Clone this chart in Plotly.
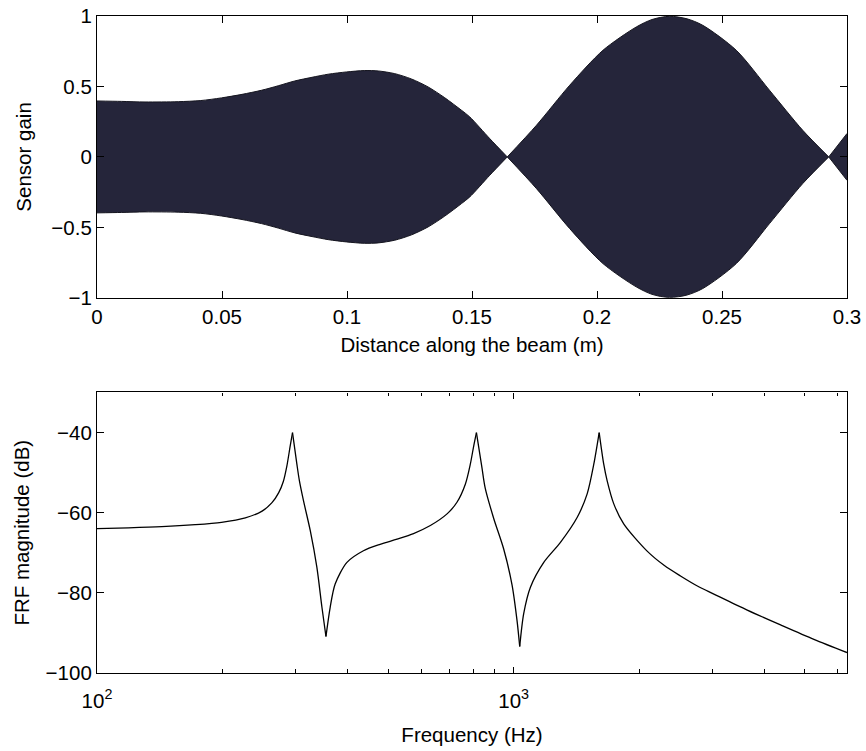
import plotly.graph_objects as go
from plotly.subplots import make_subplots

# ---- Top panel: sensor gain envelope along the beam ----
beam_x = [0.0, 0.0098, 0.0192, 0.0325, 0.0415, 0.0498, 0.0580, 0.0658, 0.0725, 0.0791,
          0.0860, 0.0925, 0.0998, 0.1071, 0.1125, 0.1191, 0.1258, 0.1324, 0.1391, 0.1458,
          0.1491, 0.1571, 0.1641, 0.1758, 0.1891, 0.2024, 0.2157, 0.2220, 0.2290, 0.2360,
          0.2423, 0.2557, 0.2690, 0.2823, 0.2927, 0.3000]
gain_env = [0.397, 0.394, 0.390, 0.392, 0.400, 0.419, 0.444, 0.473, 0.505, 0.539,
            0.565, 0.587, 0.603, 0.613, 0.610, 0.591, 0.553, 0.497, 0.420, 0.331,
            0.284, 0.130, 0.0, 0.225, 0.509, 0.757, 0.922, 0.975, 0.998, 0.980,
            0.934, 0.757, 0.473, 0.189, 0.0, 0.166]

# ---- Bottom panel: FRF magnitude ----
freq_hz = [100, 119, 143, 172, 199, 227, 249, 263, 273, 280, 285.6, 291, 294.6,
           301.8, 306, 313, 325, 337, 346.6, 354.4, 362.8, 372.9, 398, 436, 478,
           525, 575, 631, 692, 731, 765.6, 787, 802, 814, 839, 855, 896, 946, 991,
           1019, 1034, 1057, 1097, 1181, 1295, 1420, 1501, 1557, 1604, 1645, 1676,
           1739, 1837, 2091, 2300, 2514, 2760, 3023, 3636, 4371, 5254, 6310]
frf_db = [-64.0, -63.8, -63.5, -63.0, -62.4, -61.3, -59.6, -57.5, -55.0, -52.2, -48.3, -43.2, -40.0,
          -47.9, -52.0, -57.0, -64.5, -73.6, -83.6, -90.9, -83.6, -77.8, -72.4, -69.5, -67.9,
          -66.6, -65.2, -63.2, -60.3, -57.4, -52.9, -47.9, -43.3, -40.0, -48.7, -54.0, -61.5, -69.0, -78.0,
          -87.0, -93.4, -85.2, -78.6, -72.4, -67.4, -61.2, -55.3, -47.9, -40.0, -47.9, -52.0,
          -57.8, -62.8, -69.6, -73.2, -75.8, -78.3, -80.3, -84.3, -88.0, -91.6, -94.9]

top_xticks = [0, 0.05, 0.1, 0.15, 0.2, 0.25, 0.3]
top_xlabels = ["0", "0.05", "0.1", "0.15", "0.2", "0.25", "0.3"]
top_yticks = [-1, -0.5, 0, 0.5, 1]
top_ylabels = ["\u22121", "\u22120.5", "0", "0.5", "1"]
bot_yticks = [-100, -80, -60, -40]
bot_ylabels = ["\u2212100", "\u221280", "\u221260", "\u221240"]
bot_major = [100, 1000]
bot_major_labels = ["10<sup>2</sup>", "10<sup>3</sup>"]
bot_minor = [200, 300, 400, 500, 600, 700, 800, 900, 2000, 3000, 4000, 5000, 6000]

FONT = "Liberation Sans, Arial, Helvetica, sans-serif"
FS = 20.5
FILL = "#25253a"

fig = make_subplots(rows=2, cols=1, vertical_spacing=0.0)

# split envelope into lobes at its zero crossings
lobes = []
start = 0
for i, v in enumerate(gain_env):
    if v == 0.0 and i > start:
        lobes.append((start, i))
        start = i
lobes.append((start, len(gain_env) - 1))

for a, b in lobes:
    xs = beam_x[a:b + 1]
    up = gain_env[a:b + 1]
    dn = [-v for v in up]
    shape = "spline" if len(xs) > 2 else "linear"
    fig.add_trace(go.Scatter(x=xs, y=up, mode="lines",
                             line=dict(color="#15151f", width=1, shape=shape, smoothing=0.8),
                             showlegend=False, hoverinfo="skip"), row=1, col=1)
    fig.add_trace(go.Scatter(x=xs, y=dn, mode="lines", fill="tonexty", fillcolor=FILL,
                             line=dict(color="#15151f", width=1, shape=shape, smoothing=0.8),
                             showlegend=False, hoverinfo="skip"), row=1, col=1)

# split FRF at peaks/notches so the spline keeps their sharp tips
ext = [i for i in range(1, len(frf_db) - 1)
       if (frf_db[i] - frf_db[i - 1]) * (frf_db[i + 1] - frf_db[i]) < 0]
fx, fy = [], []
s = 0
for e in ext + [len(frf_db) - 1]:
    fx += freq_hz[s:e + 1] + [None]
    fy += frf_db[s:e + 1] + [None]
    s = e
fig.add_trace(go.Scatter(x=fx, y=fy, mode="lines", connectgaps=False,
                         line=dict(color="black", width=1.3, shape="spline", smoothing=0.8),
                         showlegend=False), row=2, col=1)

axis_common = dict(showline=True, linecolor="black", linewidth=1.2, mirror="ticks",
                   ticks="inside", tickcolor="black", showgrid=False, zeroline=False,
                   automargin=False,
                   tickfont=dict(family=FONT, size=FS, color="black"))

fig.update_layout(
    width=866, height=751,
    margin=dict(l=97, r=19, t=16, b=78),
    paper_bgcolor="white", plot_bgcolor="white",
    font=dict(family=FONT, size=FS, color="black"),
    xaxis=dict(domain=[0, 1], range=[0, 0.3], tickvals=top_xticks, ticktext=top_xlabels,
               ticklen=7, anchor="y",
               title=dict(text="Distance along the beam (m)", standoff=11,
                          font=dict(family=FONT, size=FS)), **axis_common),
    yaxis=dict(domain=[0.571, 1], range=[-1, 1], tickvals=top_yticks, ticktext=top_ylabels,
               ticklen=7, anchor="x",
               title=dict(text="Sensor gain", standoff=14, font=dict(family=FONT, size=FS)),
               **axis_common),
    xaxis2=dict(domain=[0, 1], type="log", range=[2, 3.8], tickvals=bot_major,
                ticktext=bot_major_labels, ticklen=6, anchor="y2", ticklabelstandoff=9,
                minor=dict(tickvals=bot_minor, ticklen=3.5, ticks="inside", tickcolor="black"),
                title=dict(text="Frequency (Hz)", standoff=16, font=dict(family=FONT, size=FS)),
                **axis_common),
    yaxis2=dict(domain=[0, 0.427], range=[-100, -30], tickvals=bot_yticks, ticktext=bot_ylabels,
                ticklen=7, anchor="x2",
                title=dict(text="FRF magnitude (dB)", standoff=10, font=dict(family=FONT, size=FS)),
                **axis_common),
)

fig.write_html("out.html")
